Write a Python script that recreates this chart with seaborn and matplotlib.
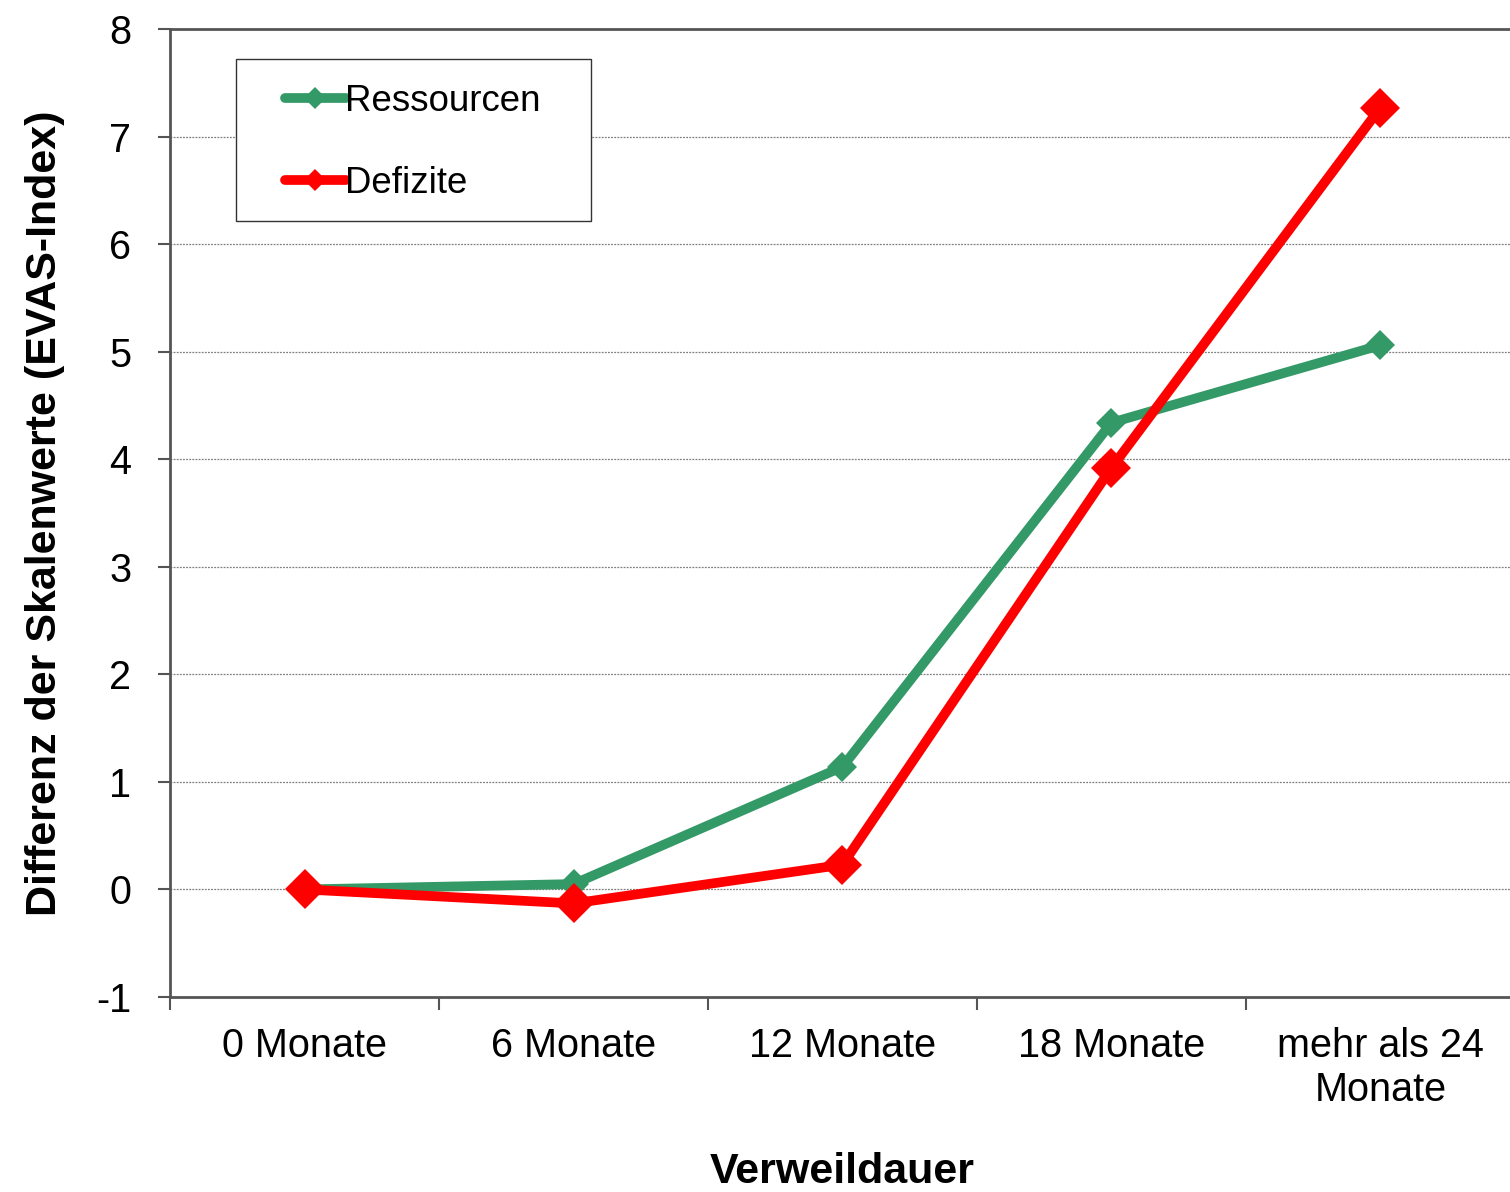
import matplotlib
matplotlib.use("Agg")
import matplotlib.pyplot as plt
import seaborn as sns
import pandas as pd
from matplotlib.patches import Rectangle
from matplotlib.ticker import FixedLocator

categories = ["0 Monate", "6 Monate", "12 Monate", "18 Monate", "mehr als 24\nMonate"]
ressourcen = [0.0, 0.05, 1.14, 4.34, 5.06]
defizite = [0.0, -0.13, 0.23, 3.92, 7.27]

df = pd.DataFrame({
    "pos": list(range(len(categories))) * 2,
    "wert": ressourcen + defizite,
    "serie": ["Ressourcen"] * len(categories) + ["Defizite"] * len(categories),
})

sns.set_style("white")
plt.rcParams["font.family"] = ["Liberation Sans", "DejaVu Sans"]
plt.rcParams["text.color"] = "black"
plt.rcParams["axes.labelcolor"] = "black"
plt.rcParams["xtick.color"] = "black"
plt.rcParams["ytick.color"] = "black"

fig = plt.figure(figsize=(15.1, 11.92), dpi=100)
ax = fig.add_axes([170 / 1510, 1 - 997 / 1192, 1345 / 1510, (997 - 29) / 1192])

colors = {"Ressourcen": "#339966", "Defizite": "#ff0000"}
msizes = {"Ressourcen": 15, "Defizite": 20}
for name in ["Ressourcen", "Defizite"]:
    sub = df[df["serie"] == name]
    sns.lineplot(data=sub, x="pos", y="wert", ax=ax, color=colors[name],
                 linewidth=7, marker="D", markersize=msizes[name],
                 markeredgewidth=0, label=name, solid_capstyle="round")

ax.set_xlim(-0.5, 4.5)
ax.set_ylim(-1, 8)
ax.set_yticks(range(-1, 9))
ax.set_yticklabels([str(v) for v in range(-1, 9)], fontsize=28.5)
ax.set_xticks(range(len(categories)))
ax.set_xticklabels(categories, fontsize=28.5, linespacing=1.2)
ax.tick_params(axis="x", which="major", length=0, pad=21.5, bottom=True)
ax.xaxis.set_minor_locator(FixedLocator([i - 0.5 for i in range(len(categories) + 1)]))
ax.tick_params(axis="x", which="minor", length=9, width=1.5, color="#555555",
               direction="out", bottom=True)
ax.tick_params(axis="y", length=9, width=1.5, color="#555555", direction="out",
               pad=19, left=True)
for y in range(0, 8):
    ax.axhline(y, color="#7f7f7f", linewidth=0.9, linestyle=(0, (1.5, 1)), zorder=0)
for side in ["left", "bottom", "top"]:
    ax.spines[side].set_color("#555555")
    ax.spines[side].set_linewidth(2)
ax.spines["right"].set_visible(False)

ax.set_xlabel("Verweildauer", fontsize=31, fontweight="bold", labelpad=31)
ax.set_ylabel("Differenz der Skalenwerte (EVAS-Index)", fontsize=31, fontweight="bold",
              labelpad=22)

# legend frame drawn separately (wide side padding like the original)
frame = Rectangle((236 / 1510, 1 - 221 / 1192), 355 / 1510, 162 / 1192,
                  transform=fig.transFigure, facecolor="white",
                  edgecolor="#333333", linewidth=1, zorder=4.5, clip_on=False)
ax.add_patch(frame)
leg = ax.legend(loc="upper left", bbox_to_anchor=(285 / 1510, 1 - 84 / 1192),
                bbox_transform=fig.transFigure, fontsize=26.4, frameon=False,
                handlelength=1.65, handletextpad=0.0, labelspacing=1.29,
                borderpad=0, borderaxespad=0)
leg.set_zorder(6)
for h in leg.get_lines():
    h.set_markersize(11)

fig.savefig("out.png", dpi=100)
